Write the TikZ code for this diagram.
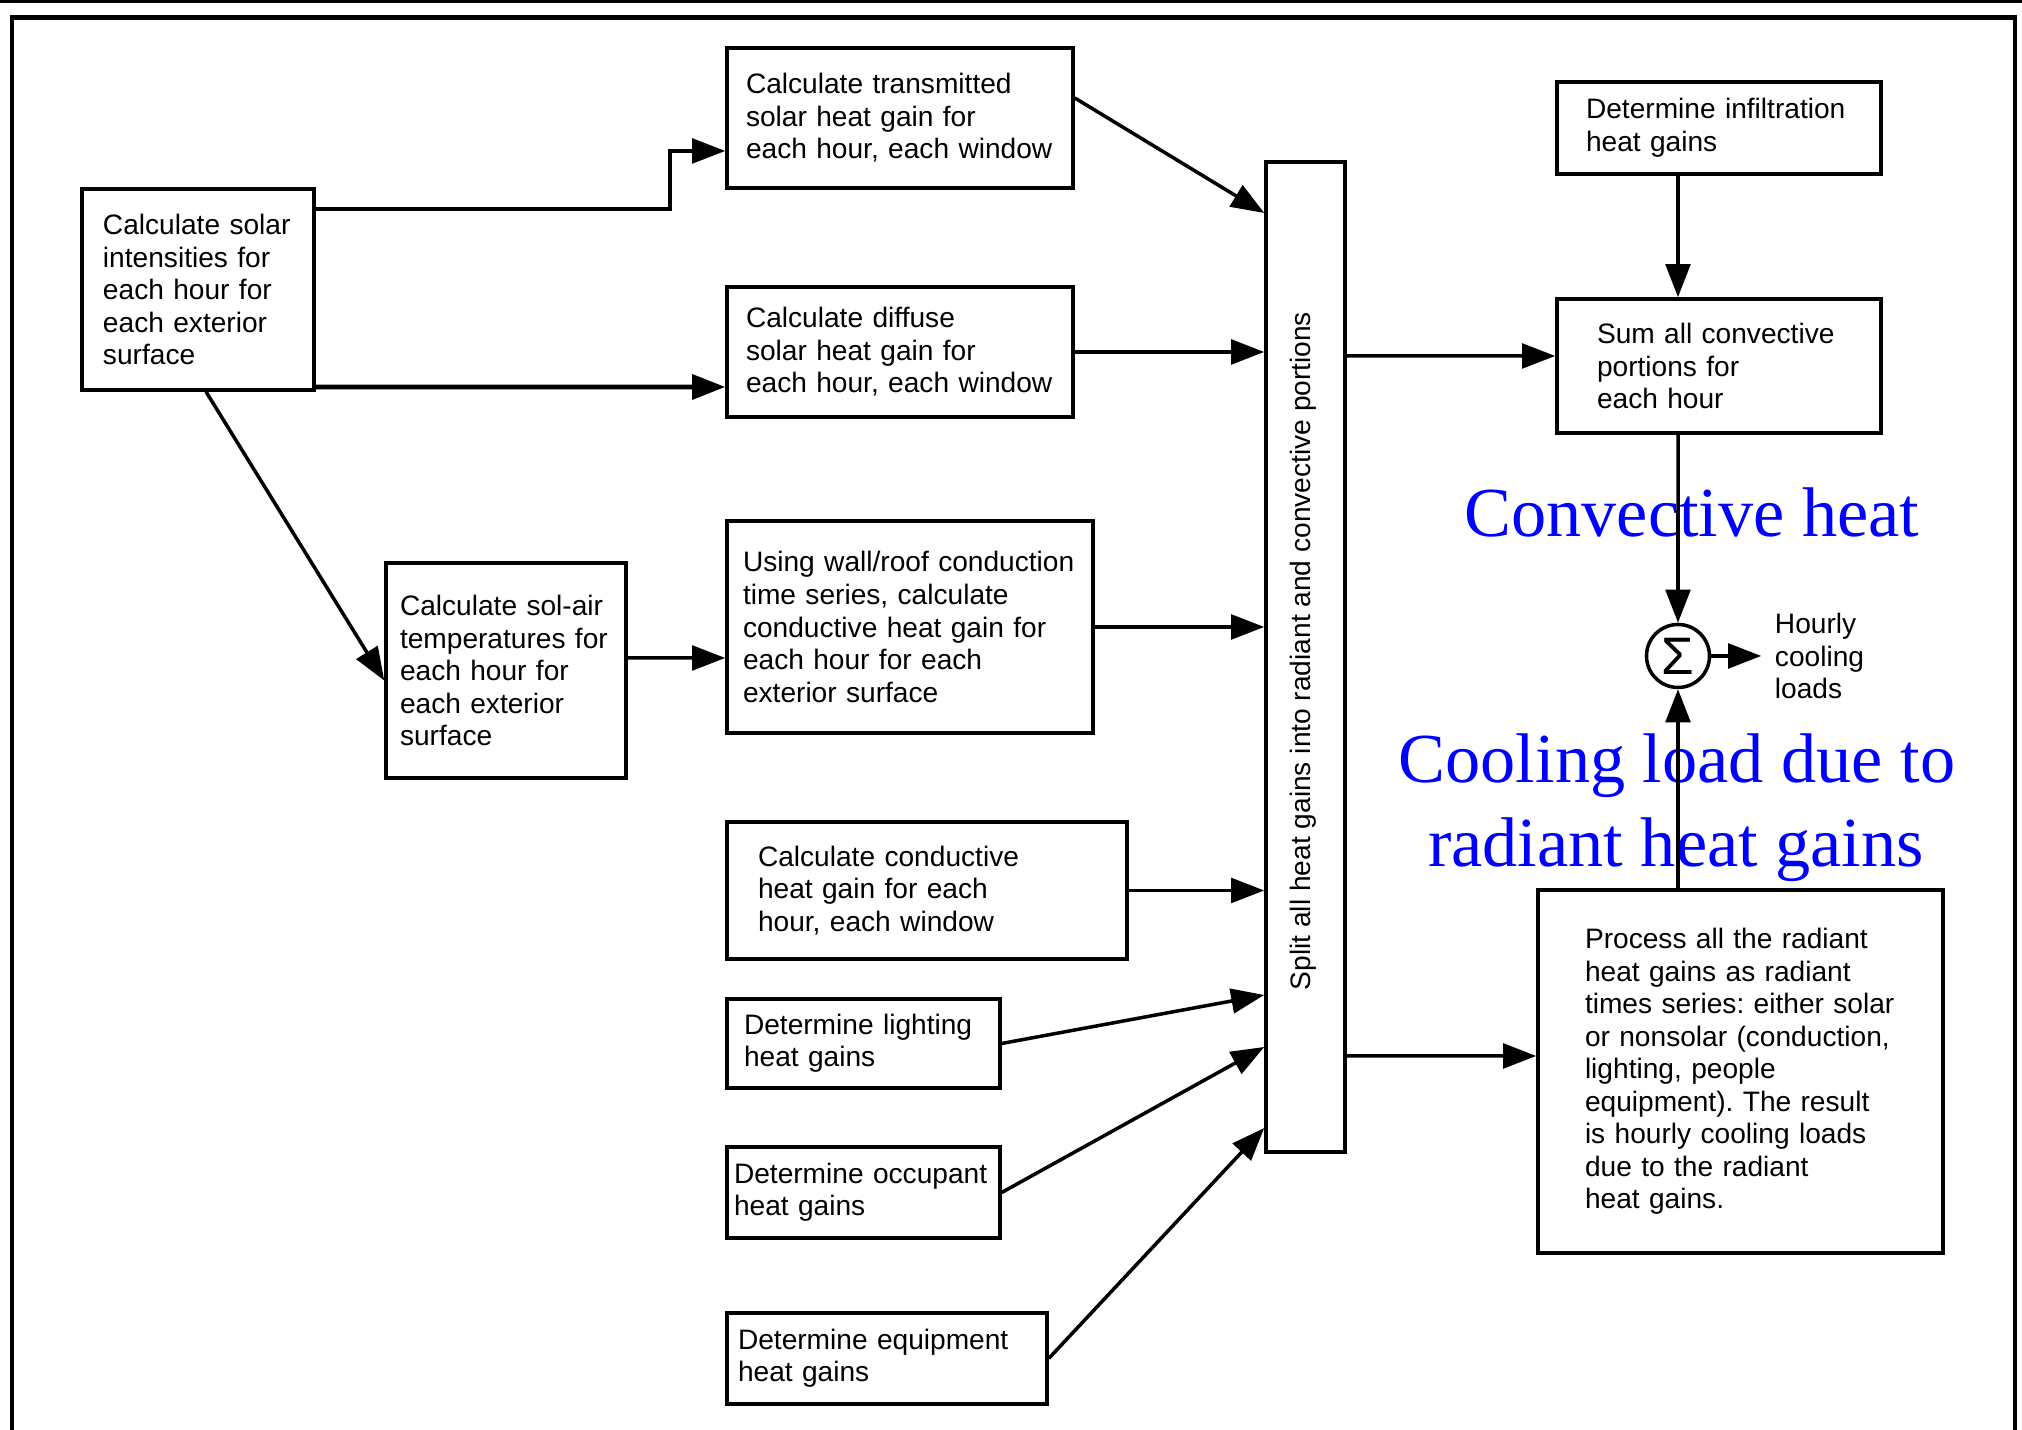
\documentclass[tikz,border=0pt]{standalone}
\usepackage{fontspec}
\usepackage{tikz}
\usetikzlibrary{arrows.meta,calc,positioning}
\newfontfamily\boxfont{Liberation Sans}
\newfontfamily\notefont{Liberation Serif}
\definecolor{noteblue}{HTML}{0000FF}
\frenchspacing
\hyphenpenalty=10000
\tikzset{
  box/.style={draw,line width=1pt,align=left,inner ysep=0pt,font=\boxfont\fontsize{8}{9.25}\selectfont},
  arr/.style={-{Triangle[length=9.4pt,width=7pt]},line width=1pt},
  note/.style={text=noteblue,inner sep=0pt,anchor=base,font=\notefont\fontsize{20}{24}\selectfont},
}
\begin{document}
\begin{tikzpicture}
\clip (0,0) rectangle (20.22,14.30);
\fill[white] (0,0) rectangle (20.22,14.30);
\draw[line width=0.9pt] (0,14.29) -- (20.22,14.29);
\draw[line width=1.3pt] (0.12,-0.5) |- (20.15,14.125) -- (20.15,-0.5);

\node[box,text width=1.90cm,inner xsep=0.21cm,minimum height=2.01cm] (solar) at (1.98,11.405) {Calculate solar\\intensities for\\each hour for\\each exterior\\surface};
\node[box,text width=3.08cm,inner xsep=0.19cm,minimum height=1.40cm] (trans) at (9.00,13.12) {Calculate transmitted\\solar heat gain for\\each hour, each window};
\node[box,text width=3.08cm,inner xsep=0.19cm,minimum height=1.30cm] (diffuse) at (9.00,10.78) {Calculate diffuse\\solar heat gain for\\each hour, each window};
\node[box,text width=2.12cm,inner xsep=0.14cm,minimum height=2.15cm] (solair) at (5.06,7.595) {Calculate sol-air\\temperatures for\\each hour for\\each exterior\\surface};
\node[box,text width=3.34cm,inner xsep=0.16cm,minimum height=2.12cm] (wall) at (9.10,8.03) {Using wall/roof conduction\\time series, calculate\\conductive heat gain for\\each hour for each\\exterior surface};
\node[box,text width=3.38cm,inner xsep=0.31cm,minimum height=1.37cm] (window) at (9.27,5.395) {Calculate conductive\\heat gain for each\\hour, each window};
\node[box,text width=2.39cm,inner xsep=0.17cm,minimum height=0.89cm] (light) at (8.635,3.865) {Determine lighting\\heat gains};
\node[box,text width=2.59cm,inner xsep=0.07cm,minimum height=0.91cm] (occup) at (8.635,2.375) {Determine occupant\\heat gains};
\node[box,text width=2.98cm,inner xsep=0.11cm,minimum height=0.91cm] (equip) at (8.87,0.715) {Determine equipment\\heat gains};

\node[box,minimum width=0.79cm,minimum height=9.90cm,inner sep=0pt] (split) at (13.055,7.73) {};
\node[rotate=90,inner sep=0pt,font=\boxfont\fontsize{8}{9.25}\selectfont] (splittext) at ([shift={(-0.02,0.06)}]split.center) {Split all heat gains into radiant and convective portions};

\node[box,text width=2.66cm,inner xsep=0.29cm,minimum height=0.92cm] (infil) at (17.19,13.02) {Determine infiltration\\heat gains};
\node[box,text width=2.44cm,inner xsep=0.40cm,minimum height=1.34cm] (conv) at (17.19,10.64) {Sum all convective\\portions for\\each hour};
\node[box,text width=3.11cm,inner xsep=0.47cm,minimum height=3.63cm] (radiant) at (17.405,3.585) {Process all the radiant\\heat gains as radiant\\times series: either solar\\or nonsolar (conduction,\\lighting, people\\equipment). The result\\is hourly cooling loads\\due to the radiant\\heat gains.};

\node[draw,circle,line width=1pt,minimum size=0.63cm,inner sep=0pt,font=\boxfont\fontsize{15}{15}\selectfont] (sum) at (16.78,7.74) {Σ};
\node[right=0.5cm of sum,inner xsep=1.3mm,align=left,font=\boxfont\fontsize{8}{9.25}\selectfont] (hourly) {Hourly\\cooling\\loads};

\node[note] (convnote) at (16.92,8.93) {Convective heat};
\node[note] (radnote) at (16.77,6.47) {Cooling load due to};
\node[note] (radnotetwo) at (16.76,5.63) {radiant heat gains};

\draw[arr] ([yshift=8.05mm]solar.east) -- ++(3.54,0) |- ([yshift=-3.3mm]trans.west);
\draw[arr,line width=1.3pt] ([yshift=-9.75mm]solar.east) -- ([yshift=-3.5mm]diffuse.west);
\draw[arr] ([xshift=0.8mm]solar.south) -- ([yshift=-1mm]solair.west);
\draw[arr] ([yshift=1.25mm]solair.east) -- ([yshift=-3.1mm]wall.west);
\draw[arr] ([yshift=2mm]trans.east) -- ([yshift=44.4mm]split.west);
\foreach \n in {diffuse,wall,window}
  \draw[arr] (\n.east) -- (\n.east -| split.west);
\foreach \n/\s in {light/-33.8mm,occup/-39mm,equip/-47.1mm}
  \draw[arr] (\n.east) -- ([yshift=\s]split.west);
\draw[arr] ([xshift=-4.1mm]infil.south) -- ([xshift=-4.1mm]conv.north);
\draw[arr] ([yshift=30.1mm]split.east) -- ([yshift=1mm]conv.west);
\draw[arr] ([yshift=-39.9mm]split.east) -- ([yshift=1.55mm]radiant.west);
\draw[arr] ([xshift=-4.1mm]conv.south) -- (sum.north);
\draw[arr] ([xshift=-6.25mm]radiant.north) -- (sum.south);
\draw[arr] (sum) -- (hourly.west);
\end{tikzpicture}
\end{document}
